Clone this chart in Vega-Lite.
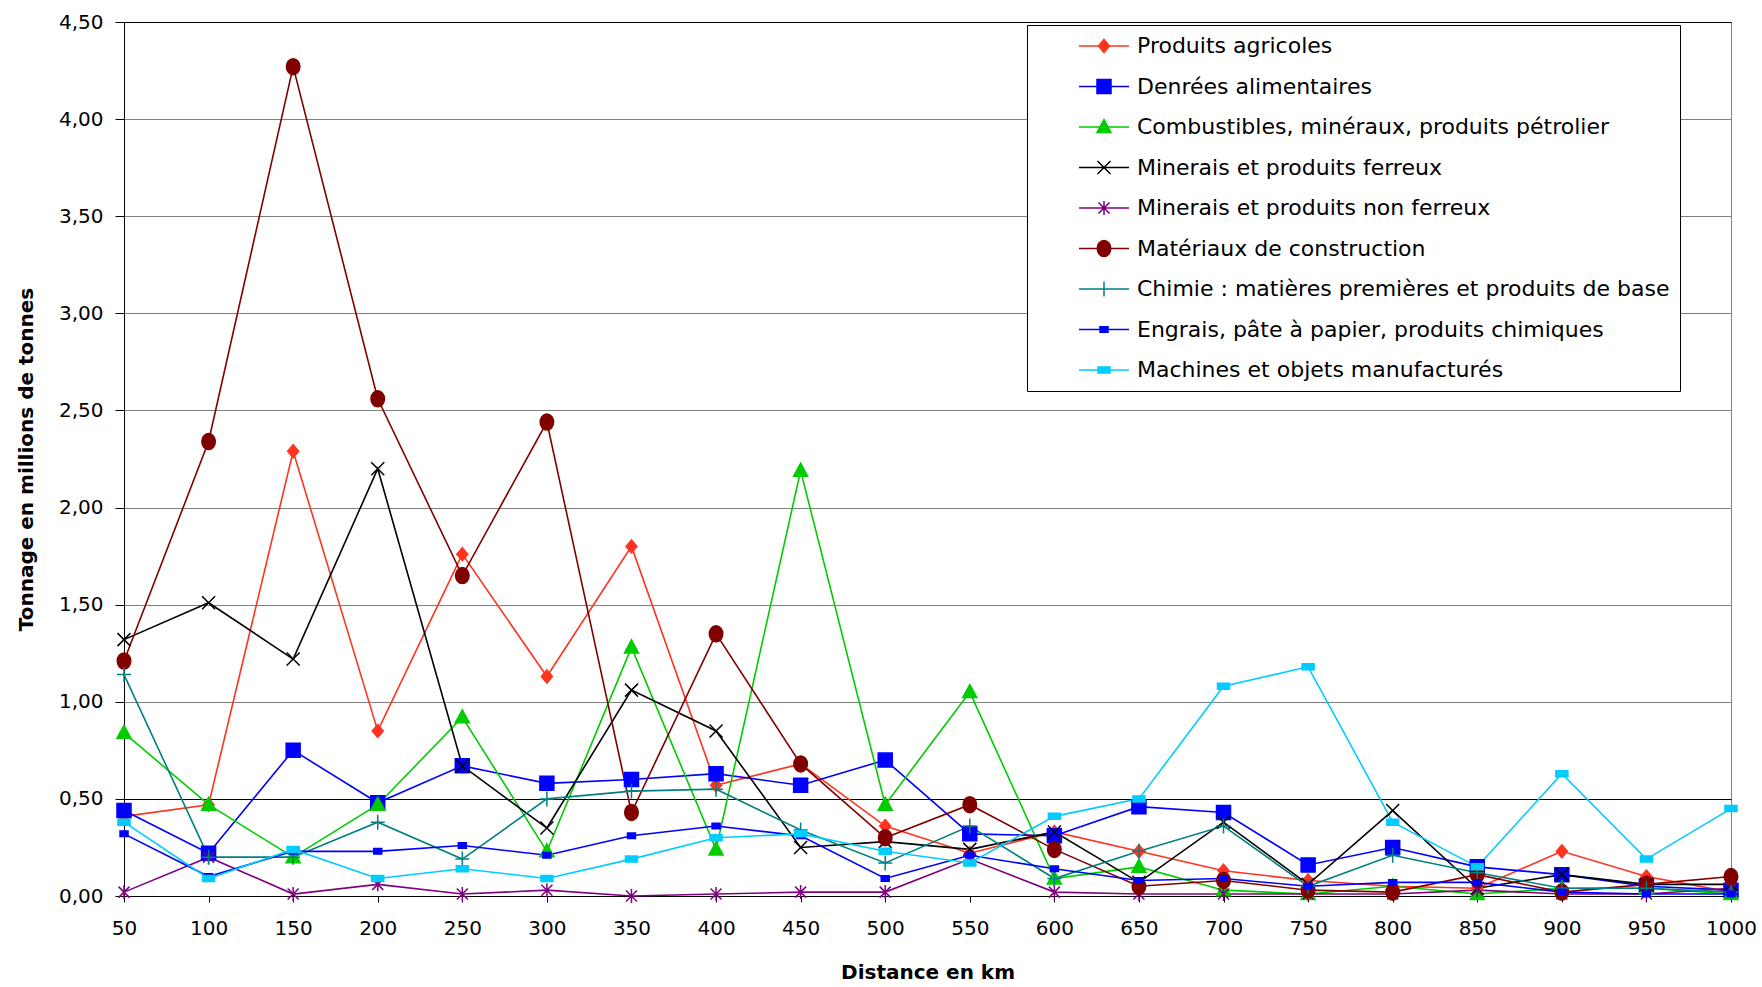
{
  "$schema": "https://vega.github.io/schema/vega-lite/v6.json",
  "width": 1607,
  "height": 874,
  "autosize": {"type": "none"},
  "padding": {"left": 124, "top": 22, "right": 31, "bottom": 91},
  "background": "white",
  "config": {
    "locale": {"number": {"decimal": ",", "thousands": " ", "grouping": [3], "currency": ["", " €"]}},
    "view": {"stroke": "#808080", "strokeWidth": 1},
    "font": "DejaVu Sans",
    "axis": {
      "labelFont": "DejaVu Sans",
      "labelFontSize": 20,
      "labelColor": "#000000",
      "titleFont": "DejaVu Sans",
      "titleFontSize": 20,
      "titleFontWeight": "bold",
      "titleColor": "#000000",
      "tickColor": "#000000",
      "domainColor": "#000000",
      "labelFlush": false,
      "labelOverlap": false
    }
  },
  "datasets": {
    "names": [
      {"k": 1, "s": "Produits agricoles"},
      {"k": 2, "s": "Denrées alimentaires"},
      {"k": 3, "s": "Combustibles, minéraux, produits pétrolier"},
      {"k": 4, "s": "Minerais et produits ferreux"},
      {"k": 5, "s": "Minerais et produits non ferreux"},
      {"k": 6, "s": "Matériaux de construction"},
      {"k": 7, "s": "Chimie : matières premières et produits de base"},
      {"k": 8, "s": "Engrais, pâte à papier, produits chimiques"},
      {"k": 9, "s": "Machines et objets manufacturés"}
    ]
  },
  "data": {"values": [
    {"d":50,"k":1,"v":0.41},{"d":100,"k":1,"v":0.47},{"d":150,"k":1,"v":2.29},{"d":200,"k":1,"v":0.85},{"d":250,"k":1,"v":1.76},{"d":300,"k":1,"v":1.13},{"d":350,"k":1,"v":1.80},{"d":400,"k":1,"v":0.57},{"d":450,"k":1,"v":0.68},{"d":500,"k":1,"v":0.36},{"d":550,"k":1,"v":0.22},{"d":600,"k":1,"v":0.33},{"d":650,"k":1,"v":0.23},{"d":700,"k":1,"v":0.13},{"d":750,"k":1,"v":0.08},{"d":800,"k":1,"v":0.05},{"d":850,"k":1,"v":0.04},{"d":900,"k":1,"v":0.23},{"d":950,"k":1,"v":0.10},{"d":1000,"k":1,"v":0.02},
    {"d":50,"k":2,"v":0.44},{"d":100,"k":2,"v":0.22},{"d":150,"k":2,"v":0.75},{"d":200,"k":2,"v":0.48},{"d":250,"k":2,"v":0.67},{"d":300,"k":2,"v":0.58},{"d":350,"k":2,"v":0.60},{"d":400,"k":2,"v":0.63},{"d":450,"k":2,"v":0.57},{"d":500,"k":2,"v":0.70},{"d":550,"k":2,"v":0.32},{"d":600,"k":2,"v":0.31},{"d":650,"k":2,"v":0.46},{"d":700,"k":2,"v":0.43},{"d":750,"k":2,"v":0.16},{"d":800,"k":2,"v":0.25},{"d":850,"k":2,"v":0.15},{"d":900,"k":2,"v":0.11},{"d":950,"k":2,"v":0.05},{"d":1000,"k":2,"v":0.03},
    {"d":50,"k":3,"v":0.84},{"d":100,"k":3,"v":0.47},{"d":150,"k":3,"v":0.20},{"d":200,"k":3,"v":0.47},{"d":250,"k":3,"v":0.92},{"d":300,"k":3,"v":0.23},{"d":350,"k":3,"v":1.28},{"d":400,"k":3,"v":0.24},{"d":450,"k":3,"v":2.19},{"d":500,"k":3,"v":0.47},{"d":550,"k":3,"v":1.05},{"d":600,"k":3,"v":0.09},{"d":650,"k":3,"v":0.15},{"d":700,"k":3,"v":0.03},{"d":750,"k":3,"v":0.01},{"d":800,"k":3,"v":0.05},{"d":850,"k":3,"v":0.01},{"d":900,"k":3,"v":0.04},{"d":950,"k":3,"v":0.04},{"d":1000,"k":3,"v":0.01},
    {"d":50,"k":4,"v":1.32},{"d":100,"k":4,"v":1.51},{"d":150,"k":4,"v":1.22},{"d":200,"k":4,"v":2.20},{"d":250,"k":4,"v":0.67},{"d":300,"k":4,"v":0.35},{"d":350,"k":4,"v":1.06},{"d":400,"k":4,"v":0.85},{"d":450,"k":4,"v":0.25},{"d":500,"k":4,"v":0.28},{"d":550,"k":4,"v":0.24},{"d":600,"k":4,"v":0.33},{"d":650,"k":4,"v":0.07},{"d":700,"k":4,"v":0.38},{"d":750,"k":4,"v":0.06},{"d":800,"k":4,"v":0.44},{"d":850,"k":4,"v":0.04},{"d":900,"k":4,"v":0.11},{"d":950,"k":4,"v":0.06},{"d":1000,"k":4,"v":0.06},
    {"d":50,"k":5,"v":0.02},{"d":100,"k":5,"v":0.20},{"d":150,"k":5,"v":0.01},{"d":200,"k":5,"v":0.06},{"d":250,"k":5,"v":0.01},{"d":300,"k":5,"v":0.03},{"d":350,"k":5,"v":0.00},{"d":400,"k":5,"v":0.01},{"d":450,"k":5,"v":0.02},{"d":500,"k":5,"v":0.02},{"d":550,"k":5,"v":0.19},{"d":600,"k":5,"v":0.02},{"d":650,"k":5,"v":0.01},{"d":700,"k":5,"v":0.01},{"d":750,"k":5,"v":0.01},{"d":800,"k":5,"v":0.01},{"d":850,"k":5,"v":0.03},{"d":900,"k":5,"v":0.01},{"d":950,"k":5,"v":0.01},{"d":1000,"k":5,"v":0.04},
    {"d":50,"k":6,"v":1.21},{"d":100,"k":6,"v":2.34},{"d":150,"k":6,"v":4.27},{"d":200,"k":6,"v":2.56},{"d":250,"k":6,"v":1.65},{"d":300,"k":6,"v":2.44},{"d":350,"k":6,"v":0.43},{"d":400,"k":6,"v":1.35},{"d":450,"k":6,"v":0.68},{"d":500,"k":6,"v":0.30},{"d":550,"k":6,"v":0.47},{"d":600,"k":6,"v":0.24},{"d":650,"k":6,"v":0.05},{"d":700,"k":6,"v":0.08},{"d":750,"k":6,"v":0.03},{"d":800,"k":6,"v":0.02},{"d":850,"k":6,"v":0.11},{"d":900,"k":6,"v":0.02},{"d":950,"k":6,"v":0.06},{"d":1000,"k":6,"v":0.10},
    {"d":50,"k":7,"v":1.14},{"d":100,"k":7,"v":0.20},{"d":150,"k":7,"v":0.20},{"d":200,"k":7,"v":0.38},{"d":250,"k":7,"v":0.19},{"d":300,"k":7,"v":0.50},{"d":350,"k":7,"v":0.54},{"d":400,"k":7,"v":0.55},{"d":450,"k":7,"v":0.34},{"d":500,"k":7,"v":0.17},{"d":550,"k":7,"v":0.36},{"d":600,"k":7,"v":0.09},{"d":650,"k":7,"v":0.23},{"d":700,"k":7,"v":0.36},{"d":750,"k":7,"v":0.05},{"d":800,"k":7,"v":0.21},{"d":850,"k":7,"v":0.12},{"d":900,"k":7,"v":0.04},{"d":950,"k":7,"v":0.04},{"d":1000,"k":7,"v":0.02},
    {"d":50,"k":8,"v":0.32},{"d":100,"k":8,"v":0.10},{"d":150,"k":8,"v":0.23},{"d":200,"k":8,"v":0.23},{"d":250,"k":8,"v":0.26},{"d":300,"k":8,"v":0.21},{"d":350,"k":8,"v":0.31},{"d":400,"k":8,"v":0.36},{"d":450,"k":8,"v":0.31},{"d":500,"k":8,"v":0.09},{"d":550,"k":8,"v":0.21},{"d":600,"k":8,"v":0.14},{"d":650,"k":8,"v":0.08},{"d":700,"k":8,"v":0.09},{"d":750,"k":8,"v":0.05},{"d":800,"k":8,"v":0.07},{"d":850,"k":8,"v":0.07},{"d":900,"k":8,"v":0.02},{"d":950,"k":8,"v":0.01},{"d":1000,"k":8,"v":0.01},
    {"d":50,"k":9,"v":0.38},{"d":100,"k":9,"v":0.09},{"d":150,"k":9,"v":0.24},{"d":200,"k":9,"v":0.09},{"d":250,"k":9,"v":0.14},{"d":300,"k":9,"v":0.09},{"d":350,"k":9,"v":0.19},{"d":400,"k":9,"v":0.30},{"d":450,"k":9,"v":0.32},{"d":500,"k":9,"v":0.23},{"d":550,"k":9,"v":0.17},{"d":600,"k":9,"v":0.41},{"d":650,"k":9,"v":0.50},{"d":700,"k":9,"v":1.08},{"d":750,"k":9,"v":1.18},{"d":800,"k":9,"v":0.38},{"d":850,"k":9,"v":0.15},{"d":900,"k":9,"v":0.63},{"d":950,"k":9,"v":0.19},{"d":1000,"k":9,"v":0.45}
  ]},
  "transform": [
    {"lookup": "k", "from": {"data": {"name": "names"}, "key": "k", "fields": ["s"]}}
  ],
  "encoding": {
    "x": {
      "field": "d", "type": "quantitative",
      "scale": {"domain": [50, 1000], "nice": false, "zero": false},
      "axis": {
        "values": [50,100,150,200,250,300,350,400,450,500,550,600,650,700,750,800,850,900,950,1000],
        "format": "d",
        "grid": false,
        "tickSize": 6,
        "labelPadding": 16,
        "title": "Distance en km",
        "titleY": 76,
        "titleBaseline": "middle"
      }
    },
    "y": {
      "field": "v", "type": "quantitative",
      "scale": {"domain": [0, 4.5], "nice": false},
      "axis": {
        "values": [0,0.5,1,1.5,2,2.5,3,3.5,4,4.5],
        "format": ".2f",
        "tickSize": 9,
        "labelPadding": 12,
        "grid": true,
        "gridColor": {"condition": {"test": "datum.value === 0.5 || datum.value === 4.5", "value": "#000000"}, "value": "#808080"},
        "gridWidth": 1.2,
        "title": "Tonnage en millions de tonnes",
        "titleX": -98,
        "titleBaseline": "middle"
      }
    }
  },
  "layer": [
    {
      "mark": {"type": "line", "strokeWidth": 1.6},
      "encoding": {
        "color": {
          "field": "s", "type": "nominal",
          "scale": {
            "domain": ["Produits agricoles","Denrées alimentaires","Combustibles, minéraux, produits pétrolier","Minerais et produits ferreux","Minerais et produits non ferreux","Matériaux de construction","Chimie : matières premières et produits de base","Engrais, pâte à papier, produits chimiques","Machines et objets manufacturés"],
            "range": ["#FF3320","#0000FF","#00CC00","#000000","#800080","#800000","#008080","#0000FF","#00CCFF"]
          },
          "legend": {
            "orient": "none",
            "legendX": 903,
            "legendY": 3,
            "title": null,
            "direction": "vertical",
            "fillColor": "#FFFFFF",
            "strokeColor": "#000000",
            "padding": 10,
            "labelFont": "DejaVu Sans",
            "labelFontSize": 22,
            "labelColor": "#000000",
            "labelLimit": 800,
            "labelOffset": 22,
            "symbolOffset": 56,
            "symbolSize": 100,
            "symbolStrokeWidth": 1.5,
            "rowPadding": 18.5,
            "encoding": {
              "symbols": {
                "shape": {"value": {"expr": "'M-5,0H5' + scale('shape', datum.value)"}}
              }
            }
          }
        },
        "order": {"field": "d", "type": "quantitative"}
      }
    },
    {
      "mark": {"type": "point", "size": 100, "strokeWidth": 1.5, "opacity": 1},
      "encoding": {
        "shape": {
          "field": "s", "type": "nominal",
          "scale": {
            "domain": ["Machines et objets manufacturés","Engrais, pâte à papier, produits chimiques","Chimie : matières premières et produits de base","Matériaux de construction","Minerais et produits non ferreux","Minerais et produits ferreux","Combustibles, minéraux, produits pétrolier","Denrées alimentaires","Produits agricoles"],
            "range": [
              "M-1.2,-0.6H1.2V0.6H-1.2Z",
              "M-0.8,-0.55H0.8V0.55H-0.8Z",
              "M-1.4,0H1.4M0,-1.5V1.5",
              "M-1.35,0A1.35,1.6,0,1,1,1.35,0A1.35,1.6,0,1,1,-1.35,0Z",
              "M-1.1,-1.1L1.1,1.1M-1.1,1.1L1.1,-1.1M0,-1.4L0,1.4",
              "M-1.3,-1.3L1.3,1.3M-1.3,1.3L1.3,-1.3",
              "M0,-1.5L1.4,1.1L-1.4,1.1Z",
              "M-1.4,-1.4H1.4V1.4H-1.4Z",
              "M0,-1.3L1.1,0L0,1.3L-1.1,0Z"
            ]
          },
          "legend": null
        },
        "stroke": {
          "field": "s", "type": "nominal",
          "scale": {
            "domain": ["Produits agricoles","Denrées alimentaires","Combustibles, minéraux, produits pétrolier","Minerais et produits ferreux","Minerais et produits non ferreux","Matériaux de construction","Chimie : matières premières et produits de base","Engrais, pâte à papier, produits chimiques","Machines et objets manufacturés"],
            "range": ["#FF3320","#0000FF","#00CC00","#000000","#800080","#800000","#008080","#0000FF","#00CCFF"]
          },
          "legend": null
        },
        "fill": {
          "field": "s", "type": "nominal",
          "scale": {
            "domain": ["Produits agricoles","Denrées alimentaires","Combustibles, minéraux, produits pétrolier","Minerais et produits ferreux","Minerais et produits non ferreux","Matériaux de construction","Chimie : matières premières et produits de base","Engrais, pâte à papier, produits chimiques","Machines et objets manufacturés"],
            "range": ["#FF3320","#0000FF","#00CC00","transparent","transparent","#800000","transparent","#0000FF","#00CCFF"]
          },
          "legend": null
        }
      }
    }
  ]
}
